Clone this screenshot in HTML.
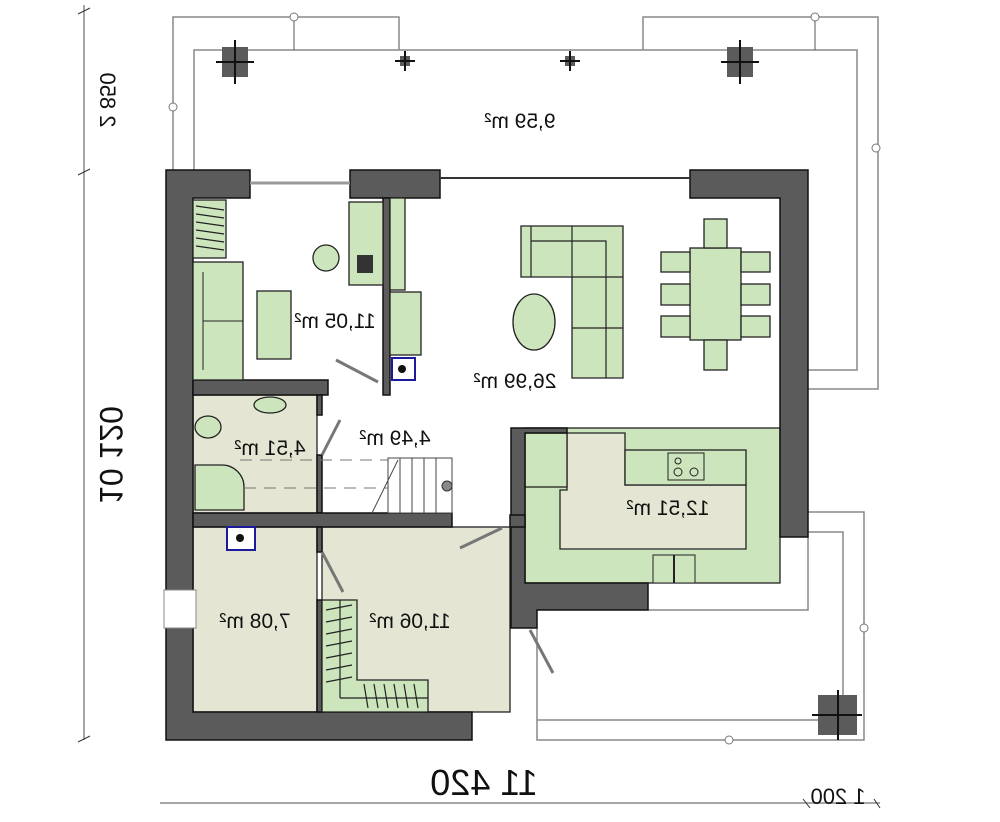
<!DOCTYPE html>
<html><head><meta charset="utf-8"><style>
html,body{margin:0;padding:0;background:#fff;}
svg{display:block;font-family:"Liberation Sans",Arial,sans-serif;}
.w{fill:#5b5b5b;stroke:#111;stroke-width:1.5}
.g{fill:#cde5bc;stroke:#222;stroke-width:1.3}
.b{fill:#e4e6d3;stroke:#222;stroke-width:1.3}
.l{fill:none;stroke:#888;stroke-width:1.5}
.t{font-size:21px;fill:#111;text-anchor:middle}
</style></head><body>
<svg width="1000" height="822" viewBox="0 0 1000 822">
<!-- terrace lines -->
<polyline class="l" points="173,172 173,17 399,17 399,50"/>
<polyline class="l" points="643,50 643,17 878,17 878,389 808,389"/>
<polyline class="l" points="194,170 194,50 857,50 857,370 808,370"/>
<circle cx="173" cy="107" r="4" fill="#fff" stroke="#777"/>
<circle cx="294" cy="17" r="4" fill="#fff" stroke="#777"/>
<circle cx="815" cy="17" r="4" fill="#fff" stroke="#777"/>
<circle cx="876" cy="148" r="4" fill="#fff" stroke="#777"/>
<line x1="294" y1="21" x2="294" y2="50" stroke="#555"/><line x1="815" y1="21" x2="815" y2="50" stroke="#555"/>
<rect x="222" y="47" width="26" height="30" fill="#5b5b5b"/><line x1="216" y1="62" x2="254" y2="62" stroke="#111" stroke-width="2"/><line x1="235" y1="40" x2="235" y2="84" stroke="#111" stroke-width="2"/>
<rect x="727" y="47" width="26" height="30" fill="#5b5b5b"/><line x1="721" y1="62" x2="759" y2="62" stroke="#111" stroke-width="2"/><line x1="740" y1="40" x2="740" y2="84" stroke="#111" stroke-width="2"/>
<rect x="400" y="56" width="10" height="10" fill="#5b5b5b"/><line x1="395" y1="61" x2="415" y2="61" stroke="#111" stroke-width="2"/><line x1="405" y1="51" x2="405" y2="71" stroke="#111" stroke-width="2"/>
<rect x="565" y="56" width="10" height="10" fill="#5b5b5b"/><line x1="560" y1="61" x2="580" y2="61" stroke="#111" stroke-width="2"/><line x1="570" y1="51" x2="570" y2="71" stroke="#111" stroke-width="2"/>
<text class="t" transform="translate(520,128) scale(-1,1)">9,59 m²</text>
<!-- dims -->
<line x1="84" y1="5" x2="84" y2="740" stroke="#888" stroke-width="1.5"/>
<line x1="78" y1="14" x2="90" y2="8" stroke="#333"/><line x1="78" y1="175" x2="90" y2="169" stroke="#333"/><line x1="78" y1="742" x2="90" y2="736" stroke="#333"/>
<text transform="translate(100,100) scale(-1,1) rotate(-90)" style="font-size:22px;text-anchor:middle" fill="#111">2 850</text>
<text transform="translate(100,455) scale(-1,1) rotate(-90)" style="font-size:32px;text-anchor:middle" fill="#111">10 120</text>
<line x1="160" y1="803" x2="880" y2="803" stroke="#888" stroke-width="1.5"/>
<line x1="803" y1="799" x2="810" y2="808" stroke="#333"/><line x1="874" y1="799" x2="880" y2="808" stroke="#333"/>
<text transform="translate(484,795) scale(-1,1)" style="font-size:36px;text-anchor:middle" fill="#111">11 420</text>
<text transform="translate(838,804) scale(-1,1)" style="font-size:22px;text-anchor:middle" fill="#111">1 200</text>
<!-- entrance lines -->
<polyline class="l" points="808,512 864,512 864,740 537,740 537,628"/>
<polyline class="l" points="808,532 843,532 843,720 537,720"/>
<polyline class="l" points="808,537 808,610 648,610"/>
<rect x="818" y="695" width="39" height="40" fill="#5b5b5b"/><line x1="812" y1="715" x2="862" y2="715" stroke="#111" stroke-width="2"/><line x1="838" y1="690" x2="838" y2="740" stroke="#111" stroke-width="2"/>
<circle cx="729" cy="740" r="4" fill="#fff" stroke="#777"/><circle cx="864" cy="628" r="4" fill="#fff" stroke="#777"/>
<!-- floors -->
<rect class="b" x="193" y="395" width="124" height="118"/>
<rect class="b" x="193" y="527" width="124" height="185"/>
<rect class="b" x="322" y="527" width="188" height="185"/>
<rect class="g" x="525" y="428" width="255" height="155"/>
<polygon class="b" points="567,433 625,433 625,485 746,485 746,549 560,549 560,490 567,490"/>
<rect class="g" x="625" y="450" width="121" height="35"/>
<rect class="g" x="525" y="433" width="42" height="54"/>
<rect x="668" y="453" width="36" height="27" fill="#cde5bc" stroke="#222"/>
<circle cx="678" cy="461" r="3" fill="none" stroke="#222"/><circle cx="678" cy="472" r="4" fill="none" stroke="#222"/><circle cx="694" cy="472" r="4" fill="none" stroke="#222"/>
<rect x="653" y="555" width="42" height="28" fill="#cde5bc" stroke="#222"/><line x1="674" y1="555" x2="674" y2="583" stroke="#222" stroke-width="2"/>
<!-- walls -->
<path class="w" d="M166,170 H250 V198 H193 V712 H472 V740 H166 Z"/>
<rect class="w" x="350" y="170" width="90" height="28"/>
<path class="w" d="M690,170 H808 V537 H780 V198 H690 Z"/>
<rect fill="#fff" x="164" y="590" width="32" height="38" stroke="#888"/>
<rect class="w" x="383" y="198" width="7" height="197"/>
<rect class="w" x="193" y="380" width="135" height="15"/>
<rect class="w" x="317" y="395" width="5" height="20"/>
<rect class="w" x="317" y="455" width="5" height="58"/>
<rect class="w" x="193" y="513" width="259" height="14"/>
<rect class="w" x="317" y="527" width="5" height="25"/>
<rect class="w" x="317" y="600" width="5" height="112"/>
<path class="w" d="M511,428 H567 V433 H525 V583 H648 V610 H537 V628 H511 Z"/>
<rect class="w" x="510" y="515" width="15" height="12"/>
<!-- top windows -->
<line x1="250" y1="183" x2="350" y2="183" stroke="#999" stroke-width="3"/>
<line x1="440" y1="178" x2="690" y2="178" stroke="#333" stroke-width="2"/>
<!-- office furniture -->
<rect class="g" x="193" y="200" width="33" height="58"/>
<g stroke="#222" stroke-width="1.2"><line x1="196" y1="206" x2="224" y2="210"/><line x1="196" y1="214" x2="224" y2="218"/><line x1="196" y1="222" x2="224" y2="226"/><line x1="196" y1="230" x2="224" y2="234"/><line x1="196" y1="238" x2="224" y2="242"/><line x1="196" y1="246" x2="224" y2="250"/></g>
<rect class="g" x="193" y="262" width="50" height="118"/><line x1="203" y1="272" x2="203" y2="370" stroke="#222"/><line x1="203" y1="321" x2="243" y2="321" stroke="#222"/>
<rect class="g" x="257" y="291" width="34" height="68"/>
<circle class="g" cx="326" cy="258" r="13"/>
<rect class="g" x="349" y="202" width="34" height="83"/>
<rect x="357" y="255" width="16" height="18" fill="#333"/>
<rect class="g" x="390" y="198" width="15" height="92"/>
<rect class="g" x="390" y="292" width="31" height="63"/>
<rect x="392" y="358" width="23" height="22" fill="#fff" stroke="#1a1a9a" stroke-width="2"/><circle cx="402" cy="369" r="4" fill="#111"/>
<line x1="336" y1="360" x2="378" y2="382" stroke="#777" stroke-width="3"/>
<!-- bathroom -->
<ellipse class="g" cx="270" cy="405" rx="16" ry="8"/>
<ellipse class="g" cx="208" cy="427" rx="13" ry="11"/>
<path class="g" d="M195,465 H222 A22,22 0 0 1 244,487 V510 H195 Z"/>
<rect x="227" y="527" width="28" height="23" fill="#fff" stroke="#1a1a9a" stroke-width="2"/><circle cx="240" cy="538" r="4" fill="#111"/>
<line x1="240" y1="460" x2="450" y2="460" stroke="#777" stroke-dasharray="12,8"/>
<line x1="244" y1="488" x2="450" y2="488" stroke="#777" stroke-dasharray="12,8"/>
<line x1="322" y1="455" x2="340" y2="420" stroke="#777" stroke-width="3"/>
<!-- stairs -->
<rect x="388" y="458" width="64" height="55" fill="#fff" stroke="#444"/>
<g stroke="#444"><line x1="400" y1="458" x2="400" y2="513"/><line x1="412" y1="458" x2="412" y2="513"/><line x1="424" y1="458" x2="424" y2="513"/><line x1="436" y1="458" x2="436" y2="513"/><line x1="398" y1="460" x2="372" y2="513"/></g>
<circle cx="447" cy="486" r="5" fill="#888" stroke="#333"/>
<!-- 11.06 furniture -->
<path class="g" d="M322,600 H357 V680 H428 V712 H322 Z"/>
<g stroke="#222" stroke-width="1.2"><line x1="340" y1="600" x2="340" y2="698"/><line x1="340" y1="698" x2="428" y2="698"/>
<line x1="326" y1="610" x2="352" y2="605"/><line x1="326" y1="622" x2="352" y2="617"/><line x1="326" y1="634" x2="352" y2="629"/><line x1="326" y1="646" x2="352" y2="641"/><line x1="326" y1="658" x2="352" y2="653"/><line x1="326" y1="670" x2="352" y2="665"/><line x1="326" y1="682" x2="352" y2="677"/>
<line x1="364" y1="684" x2="368" y2="708"/><line x1="374" y1="684" x2="378" y2="708"/><line x1="384" y1="684" x2="388" y2="708"/><line x1="394" y1="684" x2="398" y2="708"/><line x1="404" y1="684" x2="408" y2="708"/><line x1="414" y1="684" x2="418" y2="708"/></g>
<line x1="322" y1="552" x2="343" y2="592" stroke="#777" stroke-width="3"/>
<line x1="460" y1="548" x2="502" y2="528" stroke="#777" stroke-width="3"/>
<line x1="530" y1="630" x2="553" y2="673" stroke="#777" stroke-width="3"/>
<!-- living -->
<path class="g" d="M521,226 H623 V378 H572 V277 H521 Z"/>
<g stroke="#222" fill="none" stroke-width="1.2"><line x1="531" y1="226" x2="531" y2="277"/><line x1="572" y1="226" x2="572" y2="277"/><path d="M531,241 H606 V378"/><line x1="572" y1="277" x2="623" y2="277"/><line x1="572" y1="328" x2="623" y2="328"/></g>
<ellipse class="g" cx="534" cy="322" rx="21" ry="28"/>
<rect class="g" x="690" y="248" width="51" height="92"/>
<rect class="g" x="661" y="252" width="29" height="20"/><rect class="g" x="661" y="284" width="29" height="21"/><rect class="g" x="661" y="316" width="29" height="21"/>
<rect class="g" x="741" y="252" width="29" height="20"/><rect class="g" x="741" y="284" width="29" height="21"/><rect class="g" x="741" y="316" width="29" height="21"/>
<rect class="g" x="704" y="219" width="23" height="29"/><rect class="g" x="704" y="340" width="23" height="30"/>
<!-- labels -->
<text class="t" transform="translate(335,328) scale(-1,1)">11,05 m²</text>
<text class="t" transform="translate(515,388) scale(-1,1)">26,99 m²</text>
<text class="t" transform="translate(395,445) scale(-1,1)">4,49 m²</text>
<text class="t" transform="translate(270,455) scale(-1,1)">4,51 m²</text>
<text class="t" transform="translate(668,515) scale(-1,1)">12,51 m²</text>
<text class="t" transform="translate(255,628) scale(-1,1)">7,08 m²</text>
<text class="t" transform="translate(410,628) scale(-1,1)">11,06 m²</text>
</svg>
</body></html>
